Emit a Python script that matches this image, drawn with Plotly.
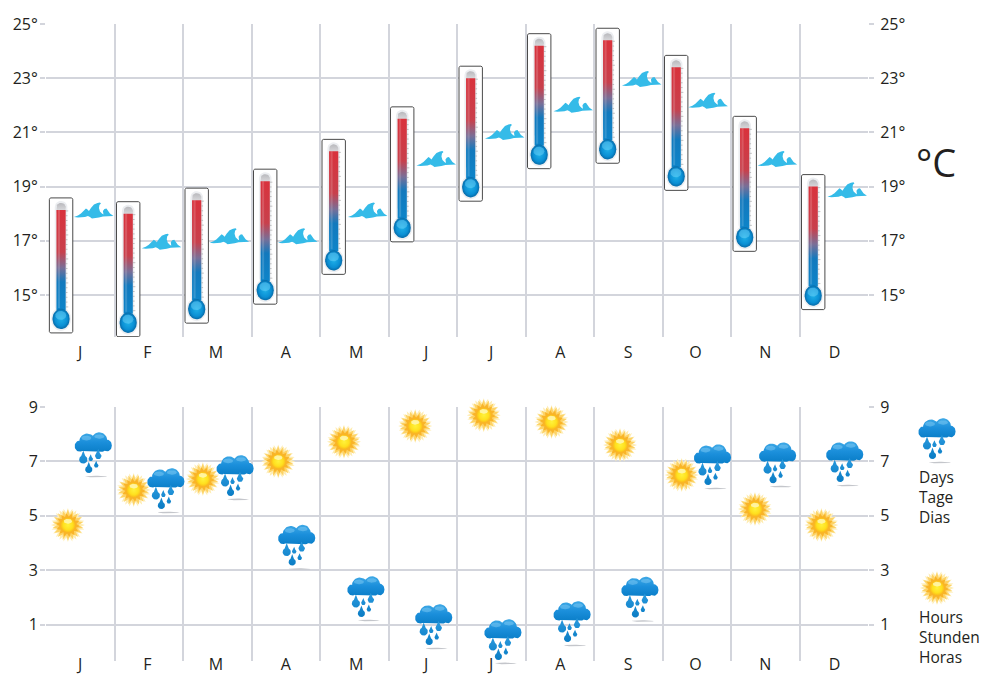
import numpy as np
import plotly.graph_objects as go

months = ["J", "F", "M", "A", "M", "J", "J", "A", "S", "O", "N", "D"]
month_pos = [0.5, 1.48, 2.48, 3.5, 4.53, 5.55, 6.5, 7.51, 8.5, 9.48, 10.5, 11.51]

# air temperature (top of the mercury) and sea temperature, deg C
air_temp = [18.14, 18.0, 18.5, 19.2, 20.3, 21.5, 23.0, 24.2, 24.4, 23.4, 21.15, 19.0]
air_x = [0.22, 1.2, 2.2, 3.2, 4.2, 5.2, 6.2, 7.2, 8.2, 9.2, 10.2, 11.2]
sea_temp = [18.1, 16.95, 17.15, 17.15, 18.1, 20.0, 21.0, 22.0, 22.95, 22.15, 20.0, 18.85]
sea_x = [0.7, 1.69, 2.68, 3.68, 4.7, 5.7, 6.7, 7.7, 8.7, 9.67, 10.68, 11.7]

# sunshine hours and rainy days per month
sun_hours = [4.66, 5.95, 6.35, 7.0, 7.72, 8.3, 8.7, 8.45, 7.6, 6.5, 5.25, 4.66]
sun_x = [0.32, 1.28, 2.29, 3.39, 4.35, 5.39, 6.39, 7.38, 8.38, 9.28, 10.35, 11.32]
rain_days = [7.27, 5.95, 6.43, 3.87, 1.98, 0.95, 0.4, 1.06, 1.96, 6.83, 6.9, 6.94]
rain_x = [0.69, 1.75, 2.76, 3.66, 4.67, 5.66, 6.67, 7.68, 8.67, 9.73, 10.68, 11.66]

temp_ticks = [15, 17, 19, 21, 23, 25]
rain_ticks = [1, 3, 5, 7, 9]

FONT = "Open Sans"
TEXT = "#231f20"
GRID = "#d3d5dc"

# pixels per data unit on each panel, used to size the pictograms
TEMP_AX = dict(xaxis="x", yaxis="y", sx=68.5, sy=27.1)
RAIN_AX = dict(xaxis="x4", yaxis="y6", sx=68.5, sy=27.2)  # x4/y6 is x2/y3 with room around it, glyphs overhang the panel
PAGE_AX = dict(xaxis="x3", yaxis="y5", sx=1.0, sy=1.0)

fig = go.Figure()


def ellipse(cx, cy, rx, ry, n=36):
    t = np.linspace(0, 2 * np.pi, n)
    return list(cx + rx * np.cos(t)), list(cy + ry * np.sin(t))


def rounded_rect(x0, y0, x1, y1, r):
    xs, ys = [], []
    corners = [(x1 - r, y0 + r, -90), (x1 - r, y1 - r, 0), (x0 + r, y1 - r, 90), (x0 + r, y0 + r, 180)]
    for cx, cy, start in corners:
        t = np.radians(np.linspace(start, start + 90, 7))
        xs += list(cx + r * np.cos(t))
        ys += list(cy + r * np.sin(t))
    return xs + xs[:1], ys + ys[:1]


def star(cx, cy, r_out, r_in, spikes, rot=0.0):
    t = np.linspace(0, 2 * np.pi, spikes * 2 + 1) + rot
    r = np.where(np.arange(spikes * 2 + 1) % 2 == 0, r_out, r_in)
    return list(cx + r * np.cos(t)), list(cy + r * np.sin(t))


def teardrop(cx, cy, r):
    t = np.radians(np.linspace(-60, 240, 20))
    xs = list(cx + r * np.cos(t)) + [cx, cx + r * np.cos(t[0])]
    ys = list(cy + r * np.sin(t)) + [cy - 2.2 * r, cy + r * np.sin(t[0])]
    return xs, ys


def join(*shapes):
    xs, ys = [], []
    for sx, sy in shapes:
        xs += list(sx) + [None]
        ys += list(sy) + [None]
    return xs, ys


def draw(shape, x0, y0, ax, fill=None, gradient=None, line=None, line_width=0, closed=True):
    # shape is an outline in pixels around the anchor (y down), placed at data point x0, y0
    xs = [None if v is None else x0 + v / ax["sx"] for v in shape[0]]
    ys = [None if v is None else y0 - v / ax["sy"] for v in shape[1]]
    kw = dict(x=xs, y=ys, mode="lines", xaxis=ax["xaxis"], yaxis=ax["yaxis"], hoverinfo="skip", cliponaxis=False,
              showlegend=False, line=dict(color=line or "rgba(0,0,0,0)", width=line_width))
    if closed:
        kw["fill"] = "toself"
        if gradient:
            kw["fillgradient"] = gradient
        else:
            kw["fillcolor"] = fill
    fig.add_trace(go.Scatter(**kw))


# colorscale position 0 is the bottom of the shape
MERCURY = dict(type="vertical", colorscale=[[0, "#0d84c9"], [0.28, "#1279bd"], [0.42, "#786f98"],
                                            [0.58, "#c8404c"], [1, "#d9323c"]])
GLASS = dict(type="vertical", colorscale=[[0, "#f0f0f2"], [1, "#b9b9bd"]])
BULB = dict(type="radial", colorscale=[[0, "#1fb0e8"], [0.7, "#0a8fd4"], [1, "#076ba8"]])


def thermometer(x0, y0):
    ax = TEMP_AX
    draw(rounded_rect(-11.7, -12, 11.7, 123, 1.5), x0, y0, ax, fill="white", line="#4a4a4a", line_width=1)
    draw(join(rounded_rect(-6.3, -9, 6.3, 102, 6), ellipse(0, 109, 10, 12)), x0, y0, ax, fill="#eceef1")
    draw(rounded_rect(-4.7, -7, 4.7, 6, 4.6), x0, y0, ax, gradient=GLASS)
    draw(rounded_rect(-4.7, 0, 4.7, 100, 0.1), x0, y0, ax, gradient=MERCURY)
    draw(rounded_rect(-3.2, 0, -1.0, 98, 0.1), x0, y0, ax, fill="rgba(255,255,255,0.16)")
    ticks = join(*[([4.8, 6.4 if i % 5 else 7.2], [1 + 4.8 * i, 1 + 4.8 * i]) for i in range(21)])
    draw(ticks, x0, y0, ax, line="#8d8d8d", line_width=0.5, closed=False)
    draw(ellipse(0, 109, 8.6, 10.2), x0, y0, ax, gradient=BULB)
    draw(ellipse(-0.3, 105.5, 5.5, 4.5), x0, y0, ax, fill="rgba(120,215,250,0.45)")


WAVE = ([-20, -16, -13, -10, -8, -6.5, -5, -3, 0, 3.5, 6, 7, 5.5, 5, 6, 8, 9.5, 9, 10.5, 12.5, 14, 16, 19.5,
         16, 12, 9, 5, 1, -2, -4, -6, -9, -12, -16, -20],
        [6, 4.5, 2.5, -1, -2.5, -1.5, 0, -3, -6.5, -8, -8.5, -7.5, -6, -3, 0.5, 2.5, 3.5, 0, -2, -2.5, 0, 2.5, 5,
         5, 5, 5.5, 6.5, 7.5, 7.5, 6, 5, 6, 6.5, 6.5, 6])


def wave(x0, y0):
    draw(WAVE, x0, y0, TEMP_AX, fill="#35bbe8")


SUN_DISC = dict(type="radial", colorscale=[[0, "#fff23c"], [0.65, "#ffe01e"], [1, "#fab81c"]])


def sun(x0, y0, ax):
    draw(star(0, 0, 17, 12.5, 24), x0, y0, ax, fill="#feedb4")
    draw(star(0, 0, 15.5, 10.5, 18, 0.17), x0, y0, ax, fill="#fdd264")
    draw(star(0, 0, 12, 8.5, 14, 0.1), x0, y0, ax, fill="#f9b428")
    draw(ellipse(0, 0, 7.5, 7.5), x0, y0, ax, gradient=SUN_DISC)
    draw(ellipse(0, -3.8, 4.2, 2.4), x0, y0, ax, fill="rgba(255,250,200,0.75)")


CLOUD_BODY = dict(type="vertical", colorscale=[[0, "#0b7fc9"], [0.5, "#1b8fdb"], [1, "#3fa9e6"]])
DROPS = dict(type="vertical", colorscale=[[0, "#0a7cc4"], [1, "#2a9ade"]])


def cloud(x0, y0, ax):
    draw(ellipse(3, 22.5, 11, 0.8), x0, y0, ax, fill="#c4c6cb")
    body = join(ellipse(-6, -12.5, 8, 8), ellipse(6, -13.5, 8, 8.2), ellipse(-13.6, -8, 5, 5.6),
                ellipse(14, -8.5, 4.6, 5.8), rounded_rect(-13, -12, 13, -2.4, 4))
    draw(body, x0, y0, ax, gradient=CLOUD_BODY)
    draw(join(ellipse(-7, -16, 5, 2.4), ellipse(6, -17.5, 5, 2.2)), x0, y0, ax, fill="rgba(150,215,250,0.4)")
    drops = join(teardrop(-10, 5.5, 4.1), teardrop(5, 2, 3.2), teardrop(-2.5, 5, 2.2),
                 teardrop(-4.5, 15.5, 3.6), teardrop(3, 11.5, 2.2))
    draw(drops, x0, y0, ax, gradient=DROPS)


for i in range(12):
    thermometer(air_x[i], air_temp[i])
    wave(sea_x[i], sea_temp[i])
    sun(sun_x[i], sun_hours[i], RAIN_AX)
    cloud(rain_x[i], rain_days[i], RAIN_AX)

# legend pictograms
cloud(937, 685 - 440, PAGE_AX)
sun(937, 685 - 588, PAGE_AX)

# invisible points so every value has a hover and the right axes get a trace
for x, y, name, xa, ya in [
    (air_x, air_temp, "Air", "x", "y2"),
    (sea_x, sea_temp, "Sea", "x", "y"),
    (sun_x, sun_hours, "Hours", "x2", "y4"),
    (rain_x, rain_days, "Days", "x2", "y3"),
]:
    fig.add_trace(go.Scatter(x=x, y=y, mode="markers", name=name, xaxis=xa, yaxis=ya, showlegend=False,
                             marker=dict(size=20, opacity=0)))


def month_axis(anchor, label_shift):
    return dict(range=[0, 12], domain=[46 / 1000, 868 / 1000], anchor=anchor,
                tickmode="array", tickvals=month_pos, ticktext=months,
                ticks="", showgrid=False, zeroline=False, showline=False, ticklabelstandoff=label_shift,
                tickfont=dict(family=FONT, size=16, color=TEXT),
                minor=dict(tickmode="array", tickvals=list(range(13)), showgrid=True,
                           gridcolor=GRID, gridwidth=1.6, ticks=""))


def value_axis(rng, top_px, bottom_px, ticks, text, **kw):
    return dict(range=rng, domain=[(685 - bottom_px) / 685, (685 - top_px) / 685],
                tickmode="array", tickvals=ticks, ticktext=text, ticks="outside", ticklen=5,
                tickcolor=GRID, tickwidth=1.6, gridcolor=GRID, gridwidth=1.6, zeroline=False,
                showline=False, tickfont=dict(family=FONT, size=16, color=TEXT), **kw)


temp_text = [f"{v}°" for v in temp_ticks]
rain_text = [str(v) for v in rain_ticks]
temp_rng = [25 - 313 / 27.1, 25]
rain_rng = [9 - 254 / 27.2, 9]
# same scale as rain_rng, stretched from 380 px to the bottom of the page
glyph_rng = [9 - 278 / 27.2, 9 + 27 / 27.2]

fig.update_layout(
    width=1000, height=685, margin=dict(l=0, r=0, t=0, b=0, autoexpand=False),
    paper_bgcolor="white", plot_bgcolor="rgba(0,0,0,0)", showlegend=False,
    xaxis=month_axis("y", 4),
    xaxis2=month_axis("y3", -8),
    xaxis3=dict(range=[0, 1000], domain=[0, 1], anchor="y5", visible=False),
    xaxis4=dict(range=[0, 12], domain=[46 / 1000, 868 / 1000], anchor="y6", visible=False),
    yaxis=value_axis(temp_rng, 24, 337, temp_ticks, temp_text, anchor="x", showgrid=True, ticklabelstandoff=-1),
    yaxis2=value_axis(temp_rng, 24, 337, temp_ticks, temp_text, anchor="x", overlaying="y", side="right", showgrid=False, ticklabelstandoff=3),
    yaxis3=value_axis(rain_rng, 407, 661, rain_ticks, rain_text, anchor="x2", showgrid=True, ticklabelstandoff=-1),
    yaxis4=value_axis(rain_rng, 407, 661, rain_ticks, rain_text, anchor="x2", overlaying="y3", side="right", showgrid=False, ticklabelstandoff=3),
    yaxis5=dict(range=[0, 685], domain=[0, 1], anchor="x3", visible=False),
    yaxis6=dict(range=glyph_rng, domain=[0, (685 - 380) / 685], anchor="x4", visible=False),
    annotations=[
        dict(x=913.5 / 1000, y=(685 - 162) / 685, xref="paper", yref="paper", xanchor="left", yanchor="middle",
             text="°C", showarrow=False, font=dict(family=FONT, size=38, color=TEXT)),
        dict(x=916.5 / 1000, y=(685 - 496.5) / 685, xref="paper", yref="paper", xanchor="left", yanchor="middle", align="left",
             text="Days<br>Tage<br>Dias", showarrow=False, font=dict(family=FONT, size=15.5, color=TEXT)),
        dict(x=916.5 / 1000, y=(685 - 636.5) / 685, xref="paper", yref="paper", xanchor="left", yanchor="middle", align="left",
             text="Hours<br>Stunden<br>Horas", showarrow=False, font=dict(family=FONT, size=15.5, color=TEXT)),
    ],
)

fig.write_html("out.html", config=dict(displayModeBar=False), post_script="document.body.style.margin = '0';")
